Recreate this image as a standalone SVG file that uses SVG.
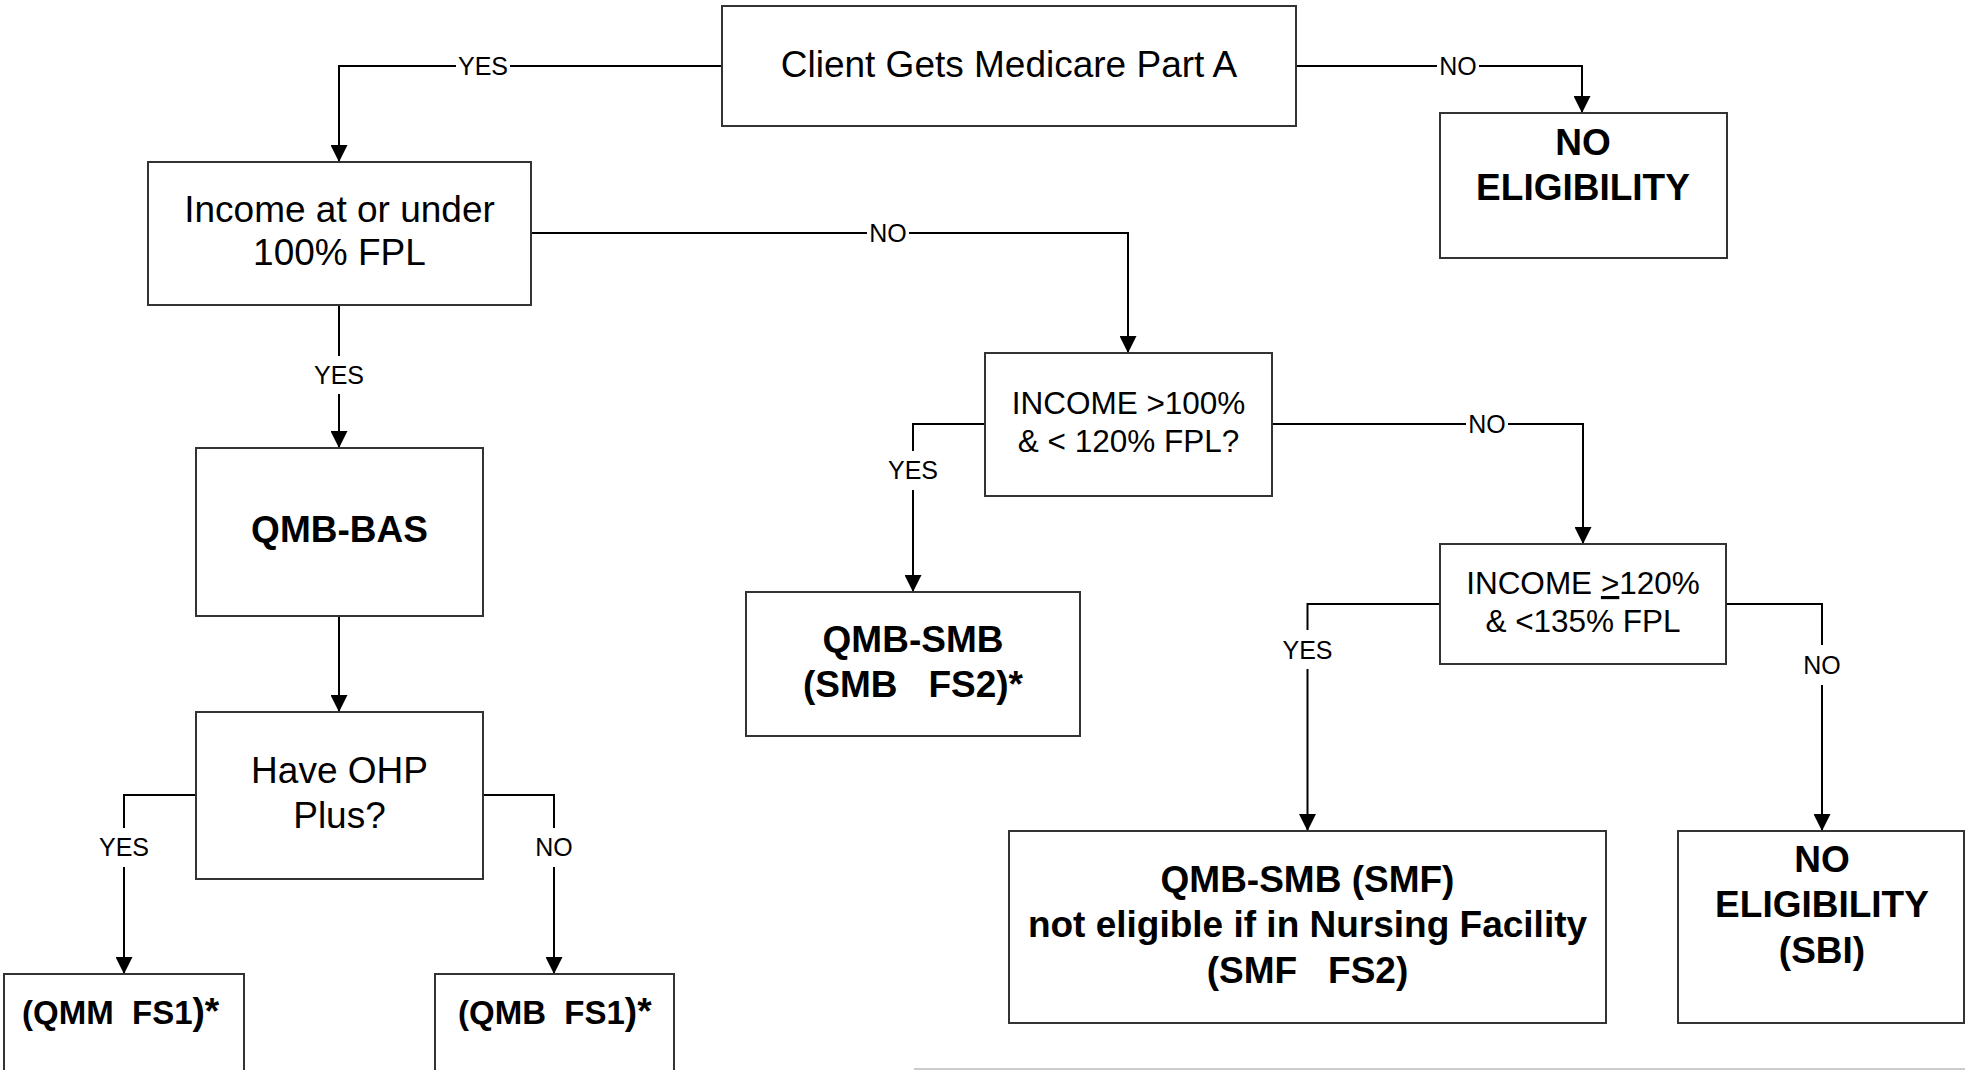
<svg xmlns="http://www.w3.org/2000/svg" width="1965" height="1070" viewBox="0 0 1965 1070">
<style>
.box{fill:#fff;stroke:#333;stroke-width:2}
.conn{fill:none;stroke:#000;stroke-width:2}
.t{font-family:"Liberation Sans",Arial,sans-serif;fill:#000;text-anchor:middle}
.big{font-size:37px}
.mid{font-size:31.5px}
.b{font-weight:bold;font-size:37px}
.lbl{font-family:"Liberation Sans",Arial,sans-serif;font-size:25px;fill:#000;text-anchor:middle}
.lb{fill:#fff;stroke:none}
</style>
<defs>
<marker id="arr" markerUnits="userSpaceOnUse" markerWidth="17" markerHeight="17" refX="17" refY="8.5" orient="auto">
<path d="M0,0 L17,8.5 L0,17 z" fill="#000"/>
</marker>
</defs>
<rect width="1965" height="1070" fill="#fff"/>

<g id="connectors">
<path class="conn" d="M722,66 H339 V162" marker-end="url(#arr)"/>
<path class="conn" d="M1296,66 H1582 V113" marker-end="url(#arr)"/>
<path class="conn" d="M339,305 V448" marker-end="url(#arr)"/>
<path class="conn" d="M531,233 H1128 V353" marker-end="url(#arr)"/>
<path class="conn" d="M339,616 V712" marker-end="url(#arr)"/>
<path class="conn" d="M196,795 H124 V974" marker-end="url(#arr)"/>
<path class="conn" d="M483,795 H554 V974" marker-end="url(#arr)"/>
<path class="conn" d="M985,424 H913 V592" marker-end="url(#arr)"/>
<path class="conn" d="M1272,424 H1583 V544" marker-end="url(#arr)"/>
<path class="conn" d="M1440,604 H1307.5 V831" marker-end="url(#arr)"/>
<path class="conn" d="M1726,604 H1822 V831" marker-end="url(#arr)"/>
<g id="labels">
<rect class="lb" x="456" y="47" width="54" height="38"/><text class="lbl" x="483" y="75">YES</text>
<rect class="lb" x="1437" y="47" width="42" height="38"/><text class="lbl" x="1458" y="75">NO</text>
<rect class="lb" x="312" y="356" width="54" height="38"/><text class="lbl" x="339" y="384">YES</text>
<rect class="lb" x="867" y="214" width="42" height="38"/><text class="lbl" x="888" y="242">NO</text>
<rect class="lb" x="97" y="828" width="54" height="39"/><text class="lbl" x="124" y="856">YES</text>
<rect class="lb" x="533" y="828" width="42" height="39"/><text class="lbl" x="554" y="856">NO</text>
<rect class="lb" x="886" y="451" width="54" height="39"/><text class="lbl" x="913" y="479">YES</text>
<rect class="lb" x="1466" y="405" width="42" height="38"/><text class="lbl" x="1487" y="433">NO</text>
<rect class="lb" x="1280" y="630" width="54" height="39"/><text class="lbl" x="1307.5" y="659">YES</text>
<rect class="lb" x="1801" y="645" width="42" height="40"/><text class="lbl" x="1822" y="674">NO</text>
</g>
</g>

<g id="n-medicare">
<rect class="box" x="722" y="6" width="574" height="120"/>
<text class="t big" x="1009" y="77">Client Gets Medicare Part A</text>
</g>
<g id="n-noelig1">
<rect class="box" x="1440" y="113" width="287" height="145"/>
<text class="t b" x="1583" y="155">NO</text>
<text class="t b" x="1583" y="200">ELIGIBILITY</text>
</g>
<g id="n-income100">
<rect class="box" x="148" y="162" width="383" height="143"/>
<text class="t big" x="339.5" y="222">Income at or under</text>
<text class="t big" x="339.5" y="265">100% FPL</text>
</g>
<g id="n-qmbbas">
<rect class="box" x="196" y="448" width="287" height="168"/>
<text class="t b" x="339.5" y="542">QMB-BAS</text>
</g>
<g id="n-ohp">
<rect class="box" x="196" y="712" width="287" height="167"/>
<text class="t big" x="339.5" y="783">Have OHP</text>
<text class="t big" x="339.5" y="828">Plus?</text>
</g>
<g id="n-qmm">
<rect class="box" x="4" y="974" width="240" height="110"/>
<text class="t" style="text-anchor:start;font-weight:bold" xml:space="preserve" x="22" y="1024"><tspan font-size="33">(QMM  FS1</tspan><tspan font-size="37">)*</tspan></text>
</g>
<g id="n-qmb">
<rect class="box" x="435" y="974" width="239" height="110"/>
<text class="t" style="text-anchor:start;font-weight:bold" xml:space="preserve" x="458" y="1024"><tspan font-size="33">(QMB  FS1</tspan><tspan font-size="37">)*</tspan></text>
</g>
<g id="n-income100-120">
<rect class="box" x="985" y="353" width="287" height="143"/>
<text class="t mid" x="1128.5" y="414">INCOME &gt;100%</text>
<text class="t mid" x="1128.5" y="452">&amp; &lt; 120% FPL?</text>
</g>
<g id="n-qmbsmb">
<rect class="box" x="746" y="592" width="334" height="144"/>
<text class="t b" x="913" y="652">QMB-SMB</text>
<text class="t b" xml:space="preserve" x="913" y="697">(SMB   FS2)*</text>
</g>
<g id="n-income120-135">
<rect class="box" x="1440" y="544" width="286" height="120"/>
<text class="t mid" x="1583" y="594">INCOME <tspan text-decoration="underline">&gt;</tspan>120%</text>
<text class="t mid" x="1583" y="632">&amp; &lt;135% FPL</text>
</g>
<g id="n-smf">
<rect class="box" x="1009" y="831" width="597" height="192"/>
<text class="t b" x="1307.5" y="892">QMB-SMB (SMF)</text>
<text class="t b" x="1307.5" y="937">not eligible if in Nursing Facility</text>
<text class="t b" xml:space="preserve" x="1307.5" y="983">(SMF   FS2)</text>
</g>
<g id="n-sbi">
<rect class="box" x="1678" y="831" width="286" height="192"/>
<text class="t b" x="1822" y="872">NO</text>
<text class="t b" x="1822" y="917">ELIGIBILITY</text>
<text class="t b" x="1822" y="963">(SBI)</text>
</g>
<line x1="914" y1="1069" x2="1965" y2="1069" stroke="#ccc" stroke-width="2"/>
</svg>
